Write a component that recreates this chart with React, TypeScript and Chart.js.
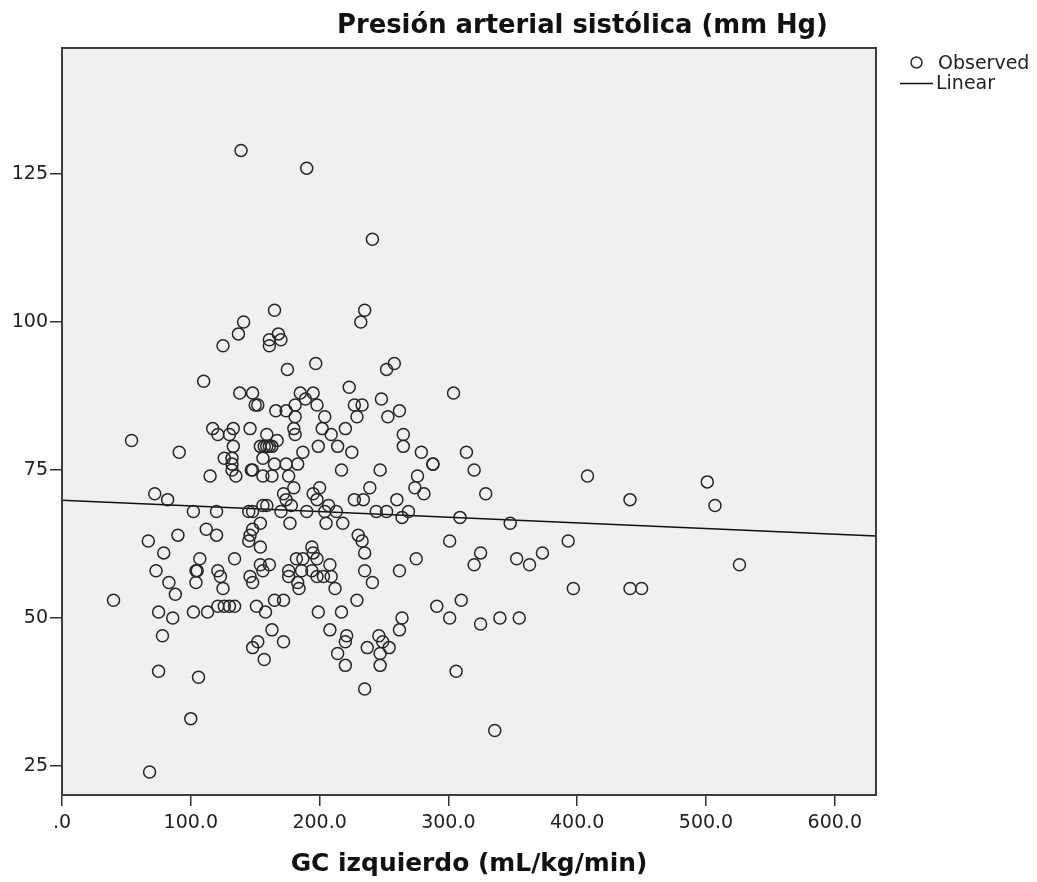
import { useEffect, useRef } from "react";
import { Chart, registerables } from "chart.js";

Chart.register(...registerables);

// ---- data ----
const gcIzquierdo = [
  139, 190, 241, 165, 235, 141, 232,
  137, 125, 168, 161, 170, 161, 197, 175, 110, 138, 148, 150, 152, 185, 195, 189, 198, 181, 166, 174, 181, 204,
  180, 181, 202, 209, 199, 187, 117, 121, 133, 130, 146, 133, 159, 167, 154, 157, 159, 161, 163, 156, 165, 174,
  183, 126, 132, 132, 132, 148, 147, 156, 163, 176, 115, 135, 54, 91,
  258, 252, 223, 304, 248, 227, 233, 262, 229, 253, 220, 265, 214, 225, 265, 279, 314, 288, 288, 217, 247, 276,
  320,
  72, 82, 102, 120, 145, 148, 156, 159, 180, 172, 174, 178, 170, 190, 200, 195, 198, 207, 204, 213, 177, 205,
  218, 154, 148, 146, 145, 154, 112, 120, 90, 67, 79, 107, 134, 104, 105, 121, 123, 104, 125, 73, 83, 88, 40,
  75, 86, 102, 113, 121, 126, 130, 134, 151, 158, 165, 172, 154, 161, 156, 146, 148, 176, 176, 182, 187, 194,
  195, 198, 186, 194, 198, 203, 208, 183, 184, 212, 199, 208, 163,
  239, 227, 234, 274, 281, 260, 329, 244, 252, 269, 264, 309, 348, 230, 233, 235, 301, 325, 320, 353, 363, 373,
  393, 397, 275, 262, 235, 241, 229, 217, 291, 310, 264, 301, 340, 355, 325, 262, 209,
  78, 75, 106, 100, 68, 152, 172, 148, 157,
  221, 220, 214, 220, 237, 246, 249, 254, 247, 247, 235, 306, 336,
  408, 441, 501, 507, 526, 441, 450,
];

const presionSistolica = [
  129, 126, 114, 102, 102, 100, 100,
  98, 96, 98, 97, 97, 96, 93, 92, 90, 88, 88, 86, 86, 88, 88, 87, 86, 86, 85, 85, 84, 84,
  82, 81, 82, 81, 79, 78, 82, 81, 82, 81, 82, 79, 81, 80, 79, 79, 79, 79, 79, 77, 76, 76,
  76, 77, 77, 76, 75, 75, 75, 74, 74, 74, 74, 74, 80, 78,
  93, 92, 89, 88, 87, 86, 86, 85, 84, 84, 82, 81, 79, 78, 79, 78, 78, 76, 76, 75, 75, 74,
  75,
  71, 70, 68, 68, 68, 68, 69, 69, 72, 71, 70, 69, 68, 68, 72, 71, 70, 69, 68, 68, 66, 66,
  66, 66, 65, 64, 63, 62, 65, 64, 64, 63, 61, 60, 60, 58, 58, 58, 57, 56, 55, 58, 56, 54, 53,
  51, 50, 51, 51, 52, 52, 52, 52, 52, 51, 53, 53, 59, 59, 58, 57, 56, 58, 57, 60, 60, 62,
  61, 60, 58, 58, 57, 57, 59, 56, 55, 55, 51, 48, 48,
  72, 70, 70, 72, 71, 70, 71, 68, 68, 68, 67, 67, 66, 64, 63, 61, 63, 61, 59, 60, 59, 61,
  63, 55, 60, 58, 58, 56, 53, 51, 52, 53, 50, 50, 50, 50, 49, 48, 57,
  47, 41, 40, 33, 24, 46, 46, 45, 43,
  47, 46, 44, 42, 45, 47, 46, 45, 44, 42, 38, 41, 31,
  74, 70, 73, 69, 59, 55, 55,
];

const xTickValues = [0, 100, 200, 300, 400, 500, 600];
const yTickValues = [25, 50, 75, 100, 125];
const xRange = [0, 632];
const yRange = [20.1, 146.3];
const fitIntercept = 69.9;
const fitSlope = -0.00957;

const chartTitle = "Presión arterial sistólica (mm Hg)";
const xAxisTitle = "GC izquierdo (mL/kg/min)";
const legendLabels = ["Observed", "Linear"];

const FONT = "'DejaVu Sans', 'Verdana', sans-serif";

function fitFontSize(text: string, weight: string, target: number): number {
  const c = document.createElement("canvas").getContext("2d");
  if (!c) return 24;
  c.font = `${weight} 100px ${FONT}`;
  const w = c.measureText(text).width;
  return w > 0 ? (100 * target) / w : 24;
}

export default function App() {
  const ref = useRef<HTMLCanvasElement | null>(null);

  useEffect(() => {
    if (!ref.current) return;
    const titleSize = Math.min(28, fitFontSize(chartTitle, "bold", 491));
    const axisTitleSize = Math.min(28, fitFontSize(xAxisTitle, "bold", 357));

    const framePlugin = {
      id: "spssFrame",
      beforeDraw(chart: any) {
        const { ctx, chartArea: a } = chart;
        ctx.save();
        ctx.fillStyle = "#ffffff";
        ctx.fillRect(0, 0, chart.width, chart.height);
        ctx.fillStyle = "#f0f0f0";
        ctx.fillRect(a.left, a.top, a.right - a.left, a.bottom - a.top);
        ctx.restore();
      },
      afterDraw(chart: any) {
        const { ctx, chartArea: a } = chart;
        ctx.save();
        // frame
        ctx.strokeStyle = "#3c3c3c";
        ctx.lineWidth = 2;
        ctx.strokeRect(a.left, a.top, a.right - a.left, a.bottom - a.top);
        // chart title
        ctx.fillStyle = "#111";
        ctx.font = `bold ${titleSize}px ${FONT}`;
        ctx.textAlign = "center";
        ctx.textBaseline = "alphabetic";
        ctx.fillText(chartTitle, a.right - 293.5, a.top - 15);
        // x-axis title
        ctx.font = `bold ${axisTitleSize}px ${FONT}`;
        ctx.fillText(xAxisTitle, (a.left + a.right) / 2, a.bottom + 76);
        // legend
        ctx.font = `19px ${FONT}`;
        ctx.textAlign = "left";
        ctx.strokeStyle = "#2e2e2e";
        ctx.lineWidth = 1.5;
        ctx.beginPath();
        ctx.arc(a.right + 40.5, a.top + 14.5, 5.5, 0, Math.PI * 2);
        ctx.stroke();
        ctx.fillStyle = "#222";
        ctx.fillText(legendLabels[0], a.right + 62, a.top + 20.5);
        ctx.strokeStyle = "#111";
        ctx.beginPath();
        ctx.moveTo(a.right + 24, a.top + 35.5);
        ctx.lineTo(a.right + 57, a.top + 35.5);
        ctx.stroke();
        ctx.fillText(legendLabels[1], a.right + 60, a.top + 40.5);
        ctx.restore();
      },
    };

    const points = gcIzquierdo.map((x, i) => ({ x, y: presionSistolica[i] }));
    const fitLine = xRange.map((x) => ({ x, y: fitIntercept + fitSlope * x }));

    const chart = new Chart(ref.current, {
      type: "scatter",
      data: {
        datasets: [
          {
            label: legendLabels[0],
            data: points,
            pointStyle: "circle",
            pointRadius: 6,
            pointBorderWidth: 1.5,
            borderColor: "#262626",
            backgroundColor: "rgba(0,0,0,0)",
            showLine: false,
          },
          {
            label: legendLabels[1],
            data: fitLine,
            showLine: true,
            pointRadius: 0,
            borderColor: "#111",
            borderWidth: 1.5,
            backgroundColor: "rgba(0,0,0,0)",
          },
        ],
      },
      options: {
        animation: false,
        responsive: false,
        devicePixelRatio: 1,
        layout: { padding: { top: 48, right: 161, left: 0, bottom: 0 } },
        plugins: {
          legend: { display: false },
          tooltip: { enabled: false },
          title: { display: false },
        },
        scales: {
          x: {
            type: "linear",
            min: xRange[0],
            max: xRange[1],
            afterBuildTicks: (s: any) => {
              s.ticks = xTickValues.map((v) => ({ value: v }));
            },
            afterFit: (s: any) => {
              s.height = 87;
            },
            ticks: {
              callback: (v: any) => (Number(v) === 0 ? ".0" : Number(v).toFixed(1)),
              font: { family: FONT, size: 19 },
              color: "#222",
              padding: 6,
              maxRotation: 0,
            },
            grid: {
              display: true,
              drawOnChartArea: false,
              drawTicks: true,
              tickLength: 11,
              color: "#333",
              lineWidth: 1.5,
            },
            border: { display: false },
            title: { display: false },
          },
          y: {
            type: "linear",
            min: yRange[0],
            max: yRange[1],
            afterBuildTicks: (s: any) => {
              s.ticks = yTickValues.map((v) => ({ value: v }));
            },
            afterFit: (s: any) => {
              s.width = 62;
            },
            ticks: {
              font: { family: FONT, size: 19 },
              color: "#222",
              padding: 2,
            },
            grid: {
              display: true,
              drawOnChartArea: false,
              drawTicks: true,
              tickLength: 12,
              color: "#333",
              lineWidth: 1.5,
            },
            border: { display: false },
          },
        },
      },
      plugins: [framePlugin],
    });
    return () => chart.destroy();
  }, []);

  return (
    <div style={{ position: "fixed", left: 0, top: 0, width: 1037, height: 882, background: "#fff" }}>
      <canvas ref={ref} width={1037} height={882} style={{ display: "block", width: 1037, height: 882 }} />
    </div>
  );
}
